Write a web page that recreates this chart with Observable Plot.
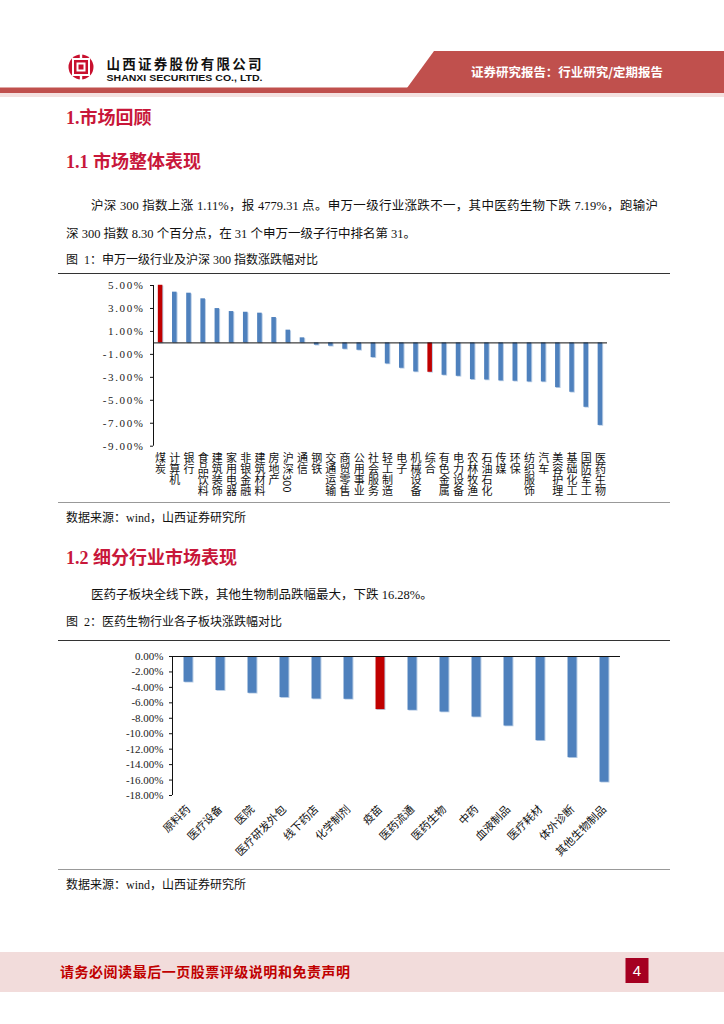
<!DOCTYPE html>
<html><head><meta charset="utf-8">
<script src="https://cdn.jsdelivr.net/npm/d3@7"></script>
<script src="https://cdn.jsdelivr.net/npm/@observablehq/plot@0.6"></script>
<style>
body{margin:0;background:#fff;}
#page{position:relative;width:724px;height:1024px;overflow:hidden;background:#fff;font-family:"Liberation Serif","Noto Sans CJK SC",serif;color:#111;}
.abs{position:absolute;white-space:nowrap;}
.h{color:#c8173a;font-weight:bold;font-size:18px;line-height:20px;left:66px;}
.p{font-size:12.5px;line-height:16px;}
.cap{font-size:12px;line-height:16px;left:66px;font-family:"Liberation Serif","Noto Sans CJK SC",sans-serif;}
.src{font-size:12px;line-height:16px;left:66px;}
.rule{position:absolute;left:58px;width:612px;}
</style></head>
<body><div id="page">
<svg class="abs" style="left:0;top:0" width="724" height="100">
  <circle cx="81" cy="67" r="12.5" fill="#c8102e"/>
  <rect x="72" y="58" width="18" height="18" fill="#fff"/>
  <rect x="74" y="60" width="14" height="14" fill="#c8102e"/>
  <rect x="76.5" y="62.5" width="9" height="9" fill="#fff"/>
  <rect x="78.5" y="64.5" width="5" height="5" fill="#c8102e"/>
  <rect x="79.8" y="53" width="2.4" height="7" fill="#fff"/>
  <rect x="79.8" y="74" width="2.4" height="7" fill="#fff"/>
  <text x="106.5" y="69" font-family="Noto Sans CJK SC" font-weight="bold" font-size="13.5" textLength="155" lengthAdjust="spacing" fill="#111">山西证券股份有限公司</text>
  <text x="106.5" y="80.5" font-family="Liberation Sans" font-weight="bold" font-size="9.5" textLength="156" lengthAdjust="spacingAndGlyphs" fill="#111">SHANXI SECURITIES CO., LTD.</text>
  <polygon points="434,51 724,51 724,88 407,88" fill="#c0504d"/>
  <rect x="0" y="87.5" width="724" height="5.5" fill="#c0504d"/>
  <rect x="0" y="93" width="724" height="4" fill="#f4e1e0"/>
  <text x="471" y="77" font-family="Noto Sans CJK SC" font-weight="bold" font-size="12.5" textLength="192" lengthAdjust="spacingAndGlyphs" fill="#fff">证券研究报告：行业研究/定期报告</text>
</svg>

<div class="abs h" style="top:108px">1.市场回顾</div>
<div class="abs h" style="top:152px">1.1 市场整体表现</div>
<div class="abs p" style="left:91px;top:198px;width:567px;text-align:justify;text-align-last:justify;white-space:normal">沪深 300 指数上涨 1.11%，报 4779.31 点。申万一级行业涨跌不一，其中医药生物下跌 7.19%，跑输沪</div>
<div class="abs p" style="left:66px;top:226px">深 300 指数 8.30 个百分点，在 31 个申万一级子行中排名第 31。</div>
<div class="abs cap" style="top:252px">图&nbsp; 1：申万一级行业及沪深 300 指数涨跌幅对比</div>
<div class="rule" style="top:272.5px;height:1.3px;background:#333"></div>
<div id="chart1" class="abs" style="left:0;top:275px"></div>
<div class="rule" style="top:501.5px;height:1px;background:#999"></div>
<div class="abs src" style="top:510px">数据来源：wind，山西证券研究所</div>

<div class="abs h" style="top:548px">1.2 细分行业市场表现</div>
<div class="abs p" style="left:91px;top:587px">医药子板块全线下跌，其他生物制品跌幅最大，下跌 16.28%。</div>
<div class="abs cap" style="top:614px">图&nbsp; 2：医药生物行业各子板块涨跌幅对比</div>
<div class="rule" style="top:640px;height:1.3px;background:#333"></div>
<div id="chart2" class="abs" style="left:0;top:645px"></div>
<div class="rule" style="top:869px;height:1px;background:#999"></div>
<div class="abs src" style="top:877px">数据来源：wind，山西证券研究所</div>

<svg class="abs" style="left:0;top:940px" width="724" height="60">
  <rect x="0" y="12" width="724" height="40" fill="#f2dcdb"/>
  <text x="60" y="37" font-family="Noto Sans CJK SC" font-weight="bold" font-size="14" textLength="290" lengthAdjust="spacing" fill="#c00000">请务必阅读最后一页股票评级说明和免责声明</text>
  <rect x="625.5" y="18" width="23" height="25" fill="#a50021"/>
  <text x="637" y="36" text-anchor="middle" font-family="Liberation Sans" font-size="15" fill="#fff">4</text>
</svg>
</div>
<script>
// ---- Chart 1 data: 申万一级行业及沪深300涨跌幅 (%)
const industries = ["煤炭","计算机","银行","食品饮料","建筑装饰","家用电器","非银金融","建筑材料","房地产","沪深300","通信","钢铁","交通运输","商贸零售","公用事业","社会服务","轻工制造","电子","机械设备","综合","有色金属","电力设备","农林牧渔","石油石化","传媒","环保","纺织服饰","汽车","美容护理","基础化工","国防军工","医药生物"];
const industryChanges = [5.02,4.42,4.33,3.84,2.99,2.73,2.67,2.59,2.21,1.11,0.44,-0.20,-0.29,-0.55,-0.64,-1.28,-1.83,-2.21,-2.53,-2.56,-2.82,-2.91,-3.20,-3.23,-3.31,-3.34,-3.40,-3.40,-3.90,-4.30,-5.61,-7.19];
const industryHighlight = ["煤炭","综合"];
const ticks1 = [5,3,1,-1,-3,-5,-7,-9];

// ---- Chart 2 data: 医药生物子板块涨跌幅 (%)
const subSectors = ["原料药","医疗设备","医院","医疗研发外包","线下药店","化学制剂","疫苗","医药流通","医药生物","中药","血液制品","医疗耗材","体外诊断","其他生物制品"];
const subChanges = [-3.33,-4.41,-4.76,-5.32,-5.50,-5.54,-6.88,-6.97,-7.19,-7.84,-9.00,-10.90,-13.10,-16.28];
const subHighlight = ["疫苗"];
const ticks2 = [0,-2,-4,-6,-8,-10,-12,-14,-16,-18];

const BLUE = "#4f81bd", RED = "#c00000", SHADOW = "#b9cde5";
const pct = d => d.toFixed(2) + "%";

const data1 = industries.map((name, i) => ({name, i, value: industryChanges[i], hi: industryHighlight.includes(name)}));
const chart1 = Plot.plot({
  width: 724, height: 225,
  marginLeft: 153, marginRight: 117, marginTop: 10, marginBottom: 54.3,
  style: {fontFamily: "'Liberation Serif','Noto Sans CJK SC',serif", fontSize: "11px", color: "#222", background: "transparent"},
  x: {domain: [0, industries.length], axis: null},
  y: {domain: [-9, 5], axis: null, label: null},
  color: {type: "identity"},
  marks: [
    Plot.rectY(data1, {x1: d => d.i + 0.34, x2: d => d.i + 0.66, y1: 0, y2: "value", fill: SHADOW, dx: 1, dy: 0.8}),
    Plot.rectY(data1, {x1: d => d.i + 0.34, x2: d => d.i + 0.66, y1: 0, y2: "value", fill: d => d.hi ? RED : BLUE}),
    Plot.ruleY([0], {stroke: "#111"}),
    Plot.ruleX([0], {stroke: "#111"}),
    Plot.axisY({ticks: ticks1, tickFormat: pct, tickSize: 3, tickPadding: 6, fontSize: 11, stroke: "#111", label: null}),
    Plot.text(data1, {x: d => d.i + 0.5, text: "name", frameAnchor: "bottom", dy: 6, textAnchor: "start", fontSize: 11, fill: "#111", fontFamily: "'Noto Sans CJK SC'"})
  ]
});
const nameSet = new Set(industries);
d3.select(chart1).selectAll("text").filter(function () { return nameSet.has(this.textContent); })
  .style("writing-mode", "vertical-rl").attr("writing-mode", "tb").attr("dy", null);
d3.select(chart1).selectAll('g[aria-label="y-axis tick label"] text').style("letter-spacing", "1.6px");
document.getElementById("chart1").appendChild(chart1);

const data2 = subSectors.map((name, i) => ({name, i, value: subChanges[i], hi: subHighlight.includes(name)}));
const chart2 = Plot.plot({
  width: 724, height: 230,
  marginLeft: 172, marginRight: 104, marginTop: 11, marginBottom: 80,
  style: {fontFamily: "'Liberation Serif','Noto Sans CJK SC',serif", fontSize: "11px", color: "#222", background: "transparent"},
  x: {domain: [0, subSectors.length], axis: null},
  y: {domain: [-18, 0], axis: null, label: null},
  color: {type: "identity"},
  marks: [
    Plot.rectY(data2, {x1: d => d.i + 0.36, x2: d => d.i + 0.64, y1: 0, y2: "value", fill: SHADOW, dx: 1, dy: 0.8}),
    Plot.rectY(data2, {x1: d => d.i + 0.36, x2: d => d.i + 0.64, y1: 0, y2: "value", fill: d => d.hi ? RED : BLUE}),
    Plot.ruleY([0], {stroke: "#111"}),
    Plot.ruleX([0], {stroke: "#111"}),
    Plot.axisY({ticks: ticks2, tickFormat: pct, tickSize: 3, tickPadding: 6, fontSize: 11, stroke: "#111", label: null}),
    Plot.text(data2, {x: d => d.i + 0.5, text: "name", frameAnchor: "bottom", dy: 12, textAnchor: "end", lineAnchor: "middle", rotate: -45, fontSize: 11, fill: "#111", fontFamily: "'Noto Sans CJK SC'"})
  ]
});
document.getElementById("chart2").appendChild(chart2);
</script>
</body></html>
